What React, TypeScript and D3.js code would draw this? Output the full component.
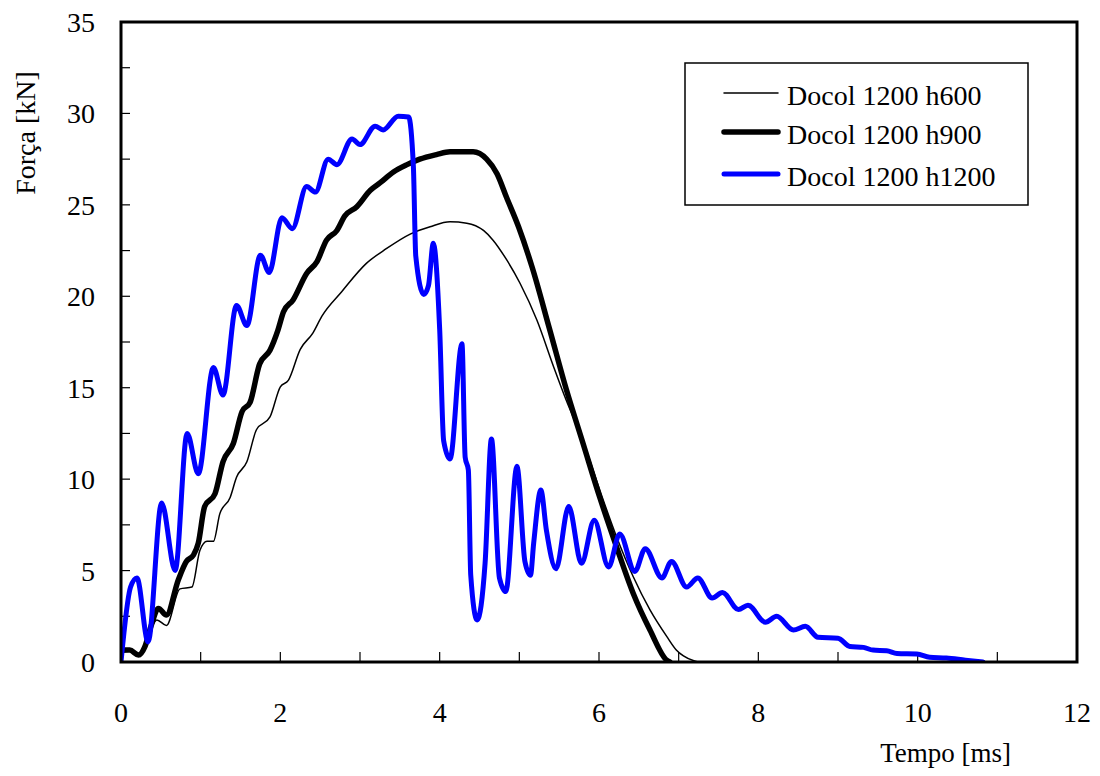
import React from "react";
import * as d3 from "d3";

type P = [number, number];

const xTickValues = [0, 1, 2, 3, 4, 5, 6, 7, 8, 9, 10, 11, 12];
const xTickLabels = [0, 2, 4, 6, 8, 10, 12];
const yTickValues = [0, 2.5, 5, 7.5, 10, 12.5, 15, 17.5, 20, 22.5, 25, 27.5, 30, 32.5, 35];
const yTickLabels = [0, 5, 10, 15, 20, 25, 30, 35];

const seriesNames = ["Docol 1200 h600", "Docol 1200 h900", "Docol 1200 h1200"];

const h600: P[] = [
  [0, 0.5], [0.12, 0.6], [0.22, 0.4], [0.32, 1.2], [0.45, 2.3], [0.57, 2.0], [0.74, 4.0], [0.89, 4.1],
  [0.99, 6.1], [1.08, 6.6], [1.16, 6.6], [1.24, 8.1], [1.37, 9.0], [1.45, 10.1], [1.58, 10.95],
  [1.7, 12.7], [1.87, 13.4], [2.0, 15.05], [2.1, 15.4], [2.25, 17.1], [2.41, 18.0], [2.52, 18.9],
  [2.77, 20.25], [3.08, 21.8], [3.33, 22.6], [3.63, 23.4], [3.88, 23.8], [4.13, 24.07], [4.34, 24.0],
  [4.55, 23.6], [4.67, 23.07], [4.84, 22.0], [5.01, 20.7], [5.22, 18.7], [5.43, 16.15], [5.59, 14.3],
  [5.8, 12.1], [6.01, 9.4], [6.22, 6.85], [6.43, 4.66], [6.64, 2.85], [6.85, 1.4], [6.97, 0.66],
  [7.06, 0.33], [7.2, 0.05], [7.25, 0],
];

const h900: P[] = [
  [0, 0.65], [0.11, 0.65], [0.22, 0.38], [0.3, 0.84], [0.38, 2.0], [0.47, 2.93], [0.57, 2.57],
  [0.72, 4.5], [0.82, 5.5], [0.91, 5.85], [0.97, 6.5], [1.05, 8.5], [1.18, 9.2], [1.28, 10.95],
  [1.41, 11.95], [1.52, 13.7], [1.62, 14.2], [1.74, 16.3], [1.87, 17.05], [1.97, 18.15], [2.04, 19.15],
  [2.16, 19.8], [2.33, 21.25], [2.46, 21.9], [2.58, 23.07], [2.71, 23.6], [2.81, 24.4], [2.96, 24.9],
  [3.13, 25.8], [3.25, 26.2], [3.42, 26.8], [3.59, 27.2], [3.75, 27.5], [3.96, 27.75], [4.13, 27.9],
  [4.42, 27.9], [4.59, 27.5], [4.72, 26.7], [4.84, 25.4], [4.99, 23.8], [5.16, 21.6], [5.38, 18.2],
  [5.59, 14.9], [5.8, 11.95], [6.01, 9.0], [6.22, 6.3], [6.43, 3.75], [6.64, 1.75], [6.85, 0.1], [6.89, 0],
];

const h1200: P[] = [
  [0, 0], [0.12, 4.1], [0.2, 4.6], [0.34, 1.1], [0.51, 8.7], [0.68, 5.0], [0.83, 12.5], [0.97, 10.3],
  [1.16, 16.1], [1.28, 14.6], [1.45, 19.5], [1.58, 18.4], [1.75, 22.25], [1.86, 21.3], [2.02, 24.3],
  [2.15, 23.7], [2.33, 26.0], [2.44, 25.7], [2.6, 27.5], [2.71, 27.2], [2.9, 28.6], [3.0, 28.3],
  [3.19, 29.3], [3.29, 29.1], [3.48, 29.85], [3.61, 29.8], [3.67, 27.1], [3.7, 22.2], [3.8, 20.1],
  [3.86, 20.6], [3.92, 22.9], [4.0, 18.2], [4.05, 12.1], [4.13, 11.1], [4.28, 17.4], [4.32, 11.2],
  [4.36, 10.5], [4.39, 4.75], [4.47, 2.3], [4.57, 5.4], [4.65, 12.2], [4.75, 4.6], [4.83, 3.85],
  [4.97, 10.7], [5.07, 5.5], [5.14, 4.75], [5.18, 6.5], [5.27, 9.4], [5.34, 7.2], [5.46, 5.1],
  [5.62, 8.5], [5.78, 5.4], [5.94, 7.75], [6.12, 5.2], [6.26, 7.0], [6.45, 4.95], [6.58, 6.2],
  [6.79, 4.6], [6.91, 5.5], [7.1, 4.1], [7.24, 4.6], [7.42, 3.5], [7.55, 3.8], [7.75, 2.87],
  [7.87, 3.1], [8.09, 2.17], [8.23, 2.5], [8.44, 1.75], [8.59, 1.95], [8.75, 1.35], [9.0, 1.3],
  [9.15, 0.85], [9.32, 0.8], [9.44, 0.65], [9.61, 0.62], [9.74, 0.47], [9.99, 0.44], [10.15, 0.26],
  [10.36, 0.22], [10.6, 0.1], [10.82, 0],
];

const W = 1100;
const H = 776;
const left = 121;
const right = 1077;
const top = 22;
const bottom = 662;
const FONT = "Liberation Serif, Times New Roman, serif";

export default function App() {
  const x = d3.scaleLinear().domain([0, 12]).range([left, right]);
  const y = d3.scaleLinear().domain([0, 35]).range([bottom, top]);
  const line = d3
    .line<P>()
    .x((d) => x(d[0]))
    .y((d) => y(d[1]))
    .curve(d3.curveMonotoneX);

  const series = [
    { data: h600, color: "#000000", width: 1.5 },
    { data: h900, color: "#000000", width: 5.5 },
    { data: h1200, color: "#0000ff", width: 5 },
  ];

  const legendX = 685;
  const legendY = 63;
  const legendRows = [93, 132, 174];
  const ts = { fontFamily: FONT };

  return (
    <svg
      width={W}
      height={H}
      style={{ position: "absolute", left: 0, top: 0, background: "#fff" }}
    >
      <rect x={0} y={0} width={W} height={H} fill="#fff" />
      <defs>
        <clipPath id="plotClip">
          <rect x={left} y={top - 5} width={right - left} height={bottom - top + 5} />
        </clipPath>
      </defs>

      {xTickValues.map((v) => (
        <line key={"xt" + v} x1={x(v)} x2={x(v)} y1={bottom} y2={bottom - 10} stroke="#000" strokeWidth={1.2} />
      ))}
      {yTickValues.map((v) => (
        <line key={"yt" + v} x1={left} x2={left + 9} y1={y(v)} y2={y(v)} stroke="#000" strokeWidth={1.2} />
      ))}

      <g clipPath="url(#plotClip)">
        {series.map((s, i) => (
          <path
            key={i}
            d={line(s.data) || ""}
            fill="none"
            stroke={s.color}
            strokeWidth={s.width}
            strokeLinejoin="round"
            strokeLinecap="round"
          />
        ))}
      </g>

      <rect x={left} y={top} width={right - left} height={bottom - top} fill="none" stroke="#000" strokeWidth={3} />

      {xTickLabels.map((v) => (
        <text key={"xl" + v} x={x(v)} y={722} textAnchor="middle" fontSize={28} fill="#000" style={ts}>
          {v}
        </text>
      ))}
      {yTickLabels.map((v) => (
        <text key={"yl" + v} x={95} y={y(v) + 10} textAnchor="end" fontSize={28} fill="#000" style={ts}>
          {v}
        </text>
      ))}

      <text x={1011} y={762} textAnchor="end" fontSize={27} fill="#000" style={ts}>
        Tempo [ms]
      </text>
      <text
        transform={`translate(35, 133) rotate(-90)`}
        textAnchor="middle"
        fontSize={28}
        fill="#000"
        style={ts}
      >
        Força [kN]
      </text>

      <rect x={legendX} y={legendY} width={343} height={142} fill="#fff" stroke="#000" strokeWidth={1.5} />
      {series.map((s, i) => (
        <g key={"lg" + i}>
          <line
            x1={724}
            x2={778}
            y1={legendRows[i]}
            y2={legendRows[i]}
            stroke={s.color}
            strokeWidth={s.width}
            strokeLinecap="round"
          />
          <text x={787} y={legendRows[i] + 12} fontSize={28} fill="#000" style={ts}>
            {seriesNames[i]}
          </text>
        </g>
      ))}
    </svg>
  );
}
